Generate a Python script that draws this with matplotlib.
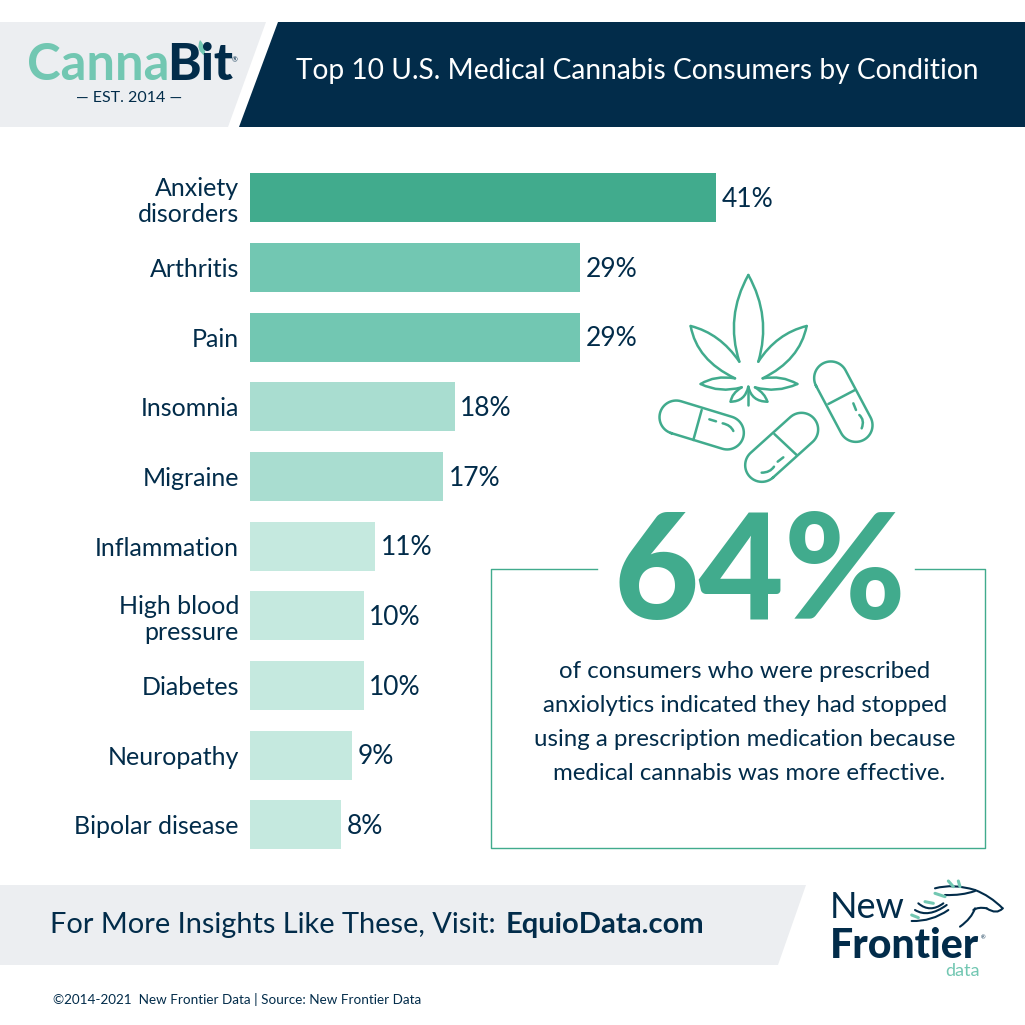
import numpy as np
from matplotlib import pyplot as plt
from matplotlib.patches import Polygon, PathPatch
from matplotlib.path import Path

plt.rcParams['font.family'] = ['Lato', 'DejaVu Sans']

# chart data
conditions = ["Anxiety\ndisorders", "Arthritis", "Pain", "Insomnia", "Migraine",
              "Inflammation", "High blood\npressure", "Diabetes", "Neuropathy", "Bipolar disease"]
shares = [41, 29, 29, 18, 17, 11, 10, 10, 9, 8]
bar_colors = ["#41ab8d", "#72c7b2", "#72c7b2", "#a9ddd0", "#a9ddd0",
              "#c5e9df", "#c5e9df", "#c5e9df", "#c5e9df", "#c5e9df"]

NAVY = "#022c4a"
GREEN = "#41ab8d"
GRAY = "#eceef1"

f = plt.figure(figsize=(10.25, 10.25), dpi=100)

# background layer in pixels
bg = f.add_axes([0, 0, 1, 1])
bg.set_xlim(0, 1025)
bg.set_ylim(1025, 0)
bg.axis("off")

# header
bg.add_patch(Polygon([(0, 22), (266, 22), (228, 127), (0, 127)], fc=GRAY, ec="none"))
bg.add_patch(Polygon([(278, 22), (1025, 22), (1025, 127), (239, 127)], fc=NAVY, ec="none"))
bg.text(637, 71, "Top 10 U.S. Medical Cannabis Consumers by Condition", color="white",
        fontsize=20.25, ha="center", va="center")

# logo
bg.text(27, 66, "Canna", color="#72c7b2", fontsize=36.5, fontweight="bold", ha="left", va="center")
bg.text(167, 66, "Bit", color=NAVY, fontsize=36.5, fontweight="black", ha="left", va="center")
bg.text(235, 60, "®", color=NAVY, fontsize=5, ha="center", va="center")
bg.text(129, 98, "— EST. 2014 —", color=NAVY, fontsize=11.5, ha="center", va="center")
bg.add_patch(PathPatch(Path([(200, 40), (195, 50), (205, 56), (206, 46), (200, 40)],
                            [1, 3, 3, 3, 3]), fc="#72c7b2", ec="none"))

# footer
bg.add_patch(Polygon([(0, 885), (806, 885), (778, 965), (0, 965)], fc=GRAY, ec="none"))
bg.text(50, 925, "For More Insights Like These, Visit:", color=NAVY, fontsize=20.9, va="center")
bg.text(506, 925, "EquioData.com", color=NAVY, fontsize=21, fontweight="bold", va="center")
bg.text(53, 999, "©2014-2021  New Frontier Data | Source: New Frontier Data", color=NAVY,
        fontsize=9.7, va="center")

# new frontier logo
bg.text(830, 907, "New", color=NAVY, fontsize=26, va="center")
bg.text(830, 946, "Frontier", color=NAVY, fontsize=29.5, fontweight="black", va="center")
bg.text(983, 938, "®", color=NAVY, fontsize=4, ha="center", va="center")
bg.text(962, 971, "data", color="#72c7b2", fontsize=13, ha="center", va="center")


def z(x, y, ox=640, oy=260):
    # zoom crop coordinates to pixels
    return (ox + x / 3, oy + y / 3)


def stroke(points, color=GREEN, lw=1.8, ox=640, oy=260):
    pts = [z(x, y, ox, oy) for x, y in points]
    if len(pts) % 2 == 1 and len(pts) >= 3:
        codes = [Path.MOVETO] + [Path.CURVE3] * (len(pts) - 1)
    else:
        codes = [Path.MOVETO] + [Path.LINETO] * (len(pts) - 1)
    bg.add_patch(PathPatch(Path(pts, codes), fc="none", ec=color, lw=lw, capstyle="round"))


def capsule(cx, cy, half, r, angle):
    # pill outline, zoom crop coordinates
    a = np.radians(angle)
    t1 = np.linspace(np.pi / 2, 3 * np.pi / 2, 30)
    t2 = np.linspace(-np.pi / 2, np.pi / 2, 30)
    px = np.r_[-half + r * np.cos(t1), half + r * np.cos(t2), -half + r * np.cos(t1[0])]
    py = np.r_[r * np.sin(t1), r * np.sin(t2), r * np.sin(t1[0])]
    xs = cx + px * np.cos(a) - py * np.sin(a)
    ys = cy + px * np.sin(a) + py * np.cos(a)
    bg.plot(640 + xs / 3, 260 + ys / 3, color=GREEN, lw=1.8)


# horse on the logo
for line in [[(135, 40), (190, 25), (255, 45)], [(165, 60), (215, 62), (255, 48)],
             [(255, 45), (300, 62), (338, 100)], [(338, 100), (320, 120), (290, 100)],
             [(290, 100), (265, 95), (250, 105)], [(210, 155), (245, 130), (255, 100)],
             [(85, 85), (120, 115), (160, 85)], [(75, 105), (115, 130), (170, 90)],
             [(65, 138), (125, 140), (175, 105)]]:
    stroke(line, color=NAVY, lw=1.5, ox=890, oy=875)
for line in [[(135, 55), (165, 65)], [(105, 80), (130, 85)], [(65, 120), (85, 128)],
             [(175, 18), (190, 35)], [(205, 18), (210, 35)]]:
    stroke(line, color="#72c7b2", lw=2.2, ox=890, oy=875)

# leaf
stroke([(298, 305), (255, 170), (325, 45)])
stroke([(325, 45), (395, 170), (355, 305)])
stroke([(298, 305), (240, 220), (152, 198)])
stroke([(152, 198), (170, 300), (285, 355)])
stroke([(355, 305), (410, 220), (500, 198)])
stroke([(500, 198), (480, 300), (368, 355)])
stroke([(285, 355), (225, 345), (182, 372)])
stroke([(182, 372), (240, 400), (305, 382)])
stroke([(368, 355), (425, 345), (472, 372)])
stroke([(472, 372), (410, 400), (345, 382)])
stroke([(305, 382), (275, 400), (272, 425)])
stroke([(272, 425), (315, 425), (325, 380)])
stroke([(325, 380), (335, 425), (382, 425)])
stroke([(382, 425), (375, 400), (345, 382)])
stroke([(325, 380), (325, 435)])

# pills
capsule(185, 495, 80, 50, 17)
stroke([(185, 450), (160, 540)])
stroke([(208, 478), (228, 484)])
stroke([(248, 490), (272, 495), (280, 513)])
capsule(425, 562, 80, 50, -42)
stroke([(403, 522), (470, 585)])
stroke([(365, 638), (390, 638), (402, 620)])
stroke([(413, 605), (430, 592)])
capsule(610, 425, 80, 50, 62)
stroke([(565, 432), (645, 390)])
stroke([(640, 430), (648, 450)])
stroke([(658, 465), (675, 480), (665, 505)])

# callout box
bg.plot([597, 491, 491, 985, 985, 915], [569, 569, 848, 848, 569, 569], color=GREEN, lw=1)
bg.text(760, 576, "64%", color=GREEN, fontsize=106, fontweight="black", ha="center", va="center")
callout = ["of consumers who were prescribed",
           "anxiolytics indicated they had stopped",
           "using a prescription medication because",
           "medical cannabis was more effective."]
for i, line in enumerate(callout):
    bg.text(745 + (4 if i == 3 else 0), 671 + i * 34.3, line, color=NAVY, fontsize=17.25,
            ha="center", va="center")

# bars
px_per_pct = 11.37
row_step = 69.66
top_px, bottom_px = 163, 860
ax = f.add_axes([250 / 1025, 1 - bottom_px / 1025, 600 / 1025, (bottom_px - top_px) / 1025])
ax.patch.set_alpha(0)
y_pos = np.arange(len(conditions))
bars = ax.barh(y_pos, shares, height=49 / row_step, color=bar_colors)
ax.set_xlim(0, 600 / px_per_pct)
ax.set_ylim((bottom_px - 198) / row_step, (top_px - 198) / row_step)
for y, v in zip(y_pos, shares):
    ax.annotate(str(v) + "%", xy=(v, y), xytext=(4, -1), textcoords="offset points",
                color=NAVY, fontsize=19, va="center")
ax.set_yticks(y_pos, conditions, color=NAVY, fontsize=18, ha="right",
              multialignment="right", linespacing=1.15)
ax.tick_params(axis="y", length=0, pad=8)
ax.set_xticks([])
for s in ax.spines.values():
    s.set_visible(False)

f.savefig("out.png", dpi=100)
